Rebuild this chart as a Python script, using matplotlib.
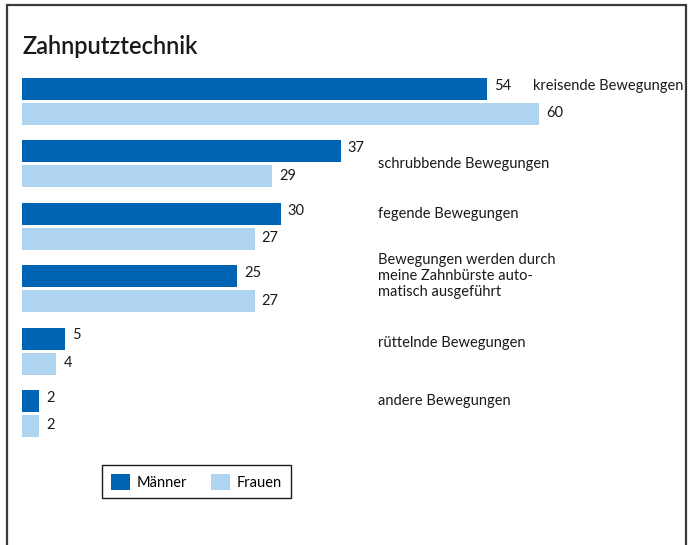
import matplotlib
matplotlib.use("Agg")
import matplotlib.pyplot as plt
from matplotlib.patches import Rectangle, Patch

title = "Zahnputztechnik"
categories = [
    "kreisende Bewegungen",
    "schrubbende Bewegungen",
    "fegende Bewegungen",
    "Bewegungen werden durch\nmeine Zahnbürste auto-\nmatisch ausgeführt",
    "rüttelnde Bewegungen",
    "andere Bewegungen",
]
maenner = [54, 37, 30, 25, 5, 2]
frauen = [60, 29, 27, 27, 4, 2]
series_names = ["Männer", "Frauen"]

DARK = "#0064b4"
LIGHT = "#aed4f0"
FONT = "Lato"

W, H = 696, 545
fig = plt.figure(figsize=(W / 100, H / 100), dpi=100)

def fx(px):
    return px / W

def fy(py):
    return 1 - py / H

# frame
fig.patches.append(Rectangle((fx(7), fy(560)), fx(686) - fx(7), fy(5) - fy(560),
                             transform=fig.transFigure, fill=False,
                             edgecolor="#3a3a3a", linewidth=1.6))

fig.text(fx(22), fy(46), title, fontsize=17, fontfamily=FONT, color="#1a1a1a",
         fontweight="semibold", va="center", ha="left")

# axes: x from px 22 to 686, y from px 60 to 460
top_px, bot_px = 60, 460
ax = fig.add_axes([fx(22), fy(bot_px), fx(686) - fx(22), fy(top_px) - fy(bot_px)])
scale = (539 - 22) / 60.0
ax.set_xlim(0, (686 - 22) / scale)
step = 62.4
y0 = 89
ax.set_ylim((bot_px - y0) / step, (top_px - y0) / step)
ax.axis("off")

bh = 22 / step
off = 25 / step
ys = list(range(len(categories)))
ax.barh([y for y in ys], maenner, height=bh, color=DARK)
ax.barh([y + off for y in ys], frauen, height=bh, color=LIGHT)

pad = 7 / scale
for y, m, f in zip(ys, maenner, frauen):
    ax.text(m + pad, y - 0.05, str(m), fontsize=10.5, fontfamily=FONT,
            color="#1a1a1a", va="center", ha="left")
    ax.text(f + pad, y + off - 0.01, str(f), fontsize=10.5, fontfamily=FONT,
            color="#1a1a1a", va="center", ha="left")

label_x = [(533 - 22) / scale] + [(378 - 22) / scale] * 5
label_y = [-0.05, 0.2, 0.0, 0.0, 0.07, 0.0]
for y, lx, ly, c in zip(ys, label_x, label_y, categories):
    ax.text(lx, y + ly, c, fontsize=10.5, fontfamily=FONT, color="#1a1a1a",
            va="center", ha="left", linespacing=1.2)

handles = [Patch(facecolor=DARK, label=series_names[0]),
           Patch(facecolor=LIGHT, label=series_names[1])]
leg = fig.legend(handles=handles, loc="upper left",
                 bbox_to_anchor=(fx(102), fy(465)), ncol=2, frameon=True,
                 fancybox=False, edgecolor="#1a1a1a", framealpha=1,
                 prop={"family": FONT, "size": 10.5}, handlelength=1.3,
                 handleheight=1.3, columnspacing=1.6, handletextpad=0.5,
                 borderpad=0.6, borderaxespad=0)
leg.get_frame().set_linewidth(1.0)

fig.savefig("out.png", dpi=100)
